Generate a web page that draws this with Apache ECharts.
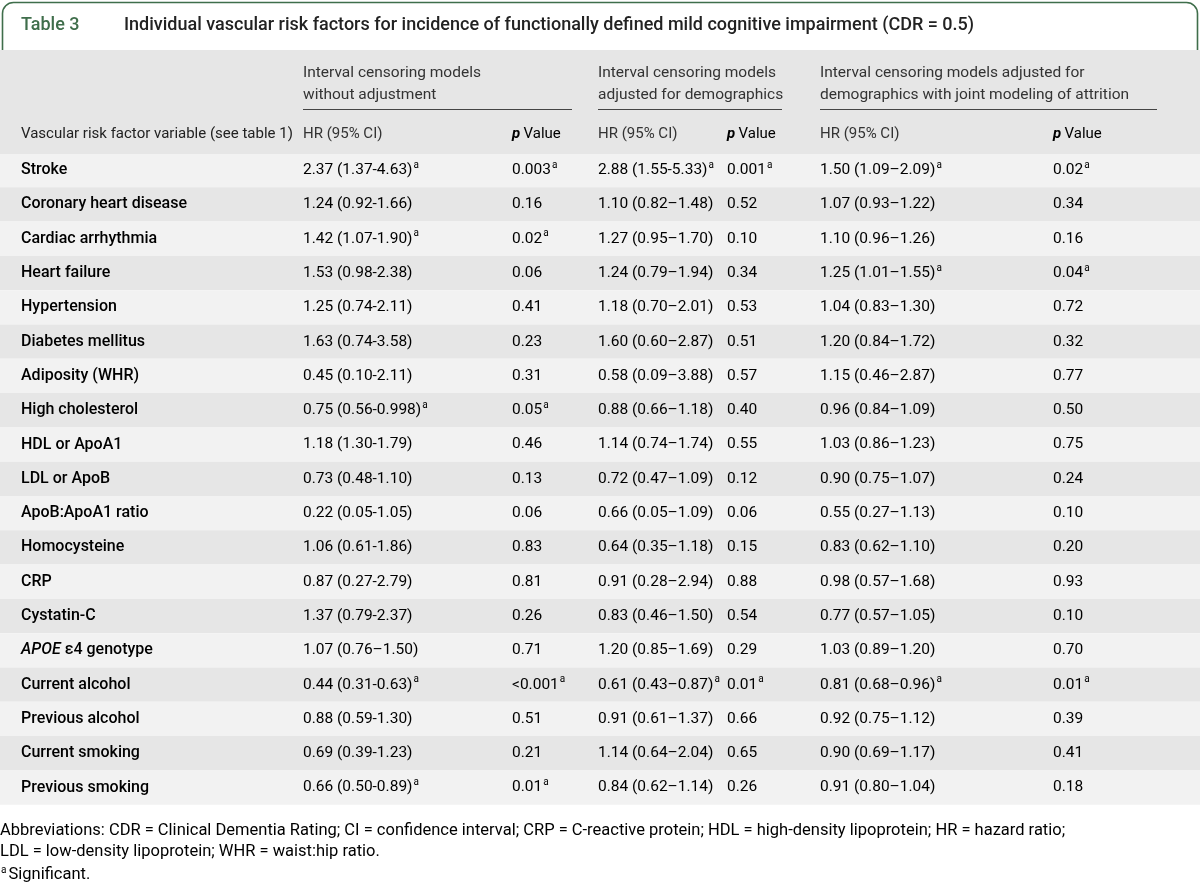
<!DOCTYPE html>
<html><head><meta charset="utf-8">
<script src="https://cdn.jsdelivr.net/npm/echarts@6/dist/echarts.min.js"></script>
<style>html,body{margin:0;padding:0;background:#fff}#c{width:1200px;height:885px}</style>
</head><body><div id="c"></div>
<script>
// ---------- data ----------
const tableNo = 'Table 3';
const caption = 'Individual vascular risk factors for incidence of functionally defined mild cognitive impairment (CDR = 0.5)';
const groupHeaders = [
  ['Interval censoring models', 'without adjustment'],
  ['Interval censoring models', 'adjusted for demographics'],
  ['Interval censoring models adjusted for', 'demographics with joint modeling of attrition']
];
const stubHeader = 'Vascular risk factor variable (see table 1)';
const colHeaders = ['HR (95% CI)', 'p Value'];
// "*" marks a significant result (superscript a); _x_ marks italic text
const factors = ['Stroke','Coronary heart disease','Cardiac arrhythmia','Heart failure','Hypertension','Diabetes mellitus','Adiposity (WHR)','High cholesterol','HDL or ApoA1','LDL or ApoB','ApoB:ApoA1 ratio','Homocysteine','CRP','Cystatin-C','_APOE_ ε4 genotype','Current alcohol','Previous alcohol','Current smoking','Previous smoking'];
const hr1 = ['2.37 (1.37-4.63)*','1.24 (0.92-1.66)','1.42 (1.07-1.90)*','1.53 (0.98-2.38)','1.25 (0.74-2.11)','1.63 (0.74-3.58)','0.45 (0.10-2.11)','0.75 (0.56-0.998)*','1.18 (1.30-1.79)','0.73 (0.48-1.10)','0.22 (0.05-1.05)','1.06 (0.61-1.86)','0.87 (0.27-2.79)','1.37 (0.79-2.37)','1.07 (0.76–1.50)','0.44 (0.31-0.63)*','0.88 (0.59-1.30)','0.69 (0.39-1.23)','0.66 (0.50-0.89)*'];
const p1 = ['0.003*','0.16','0.02*','0.06','0.41','0.23','0.31','0.05*','0.46','0.13','0.06','0.83','0.81','0.26','0.71','<0.001*','0.51','0.21','0.01*'];
const hr2 = ['2.88 (1.55-5.33)*','1.10 (0.82–1.48)','1.27 (0.95–1.70)','1.24 (0.79–1.94)','1.18 (0.70–2.01)','1.60 (0.60–2.87)','0.58 (0.09–3.88)','0.88 (0.66–1.18)','1.14 (0.74–1.74)','0.72 (0.47–1.09)','0.66 (0.05–1.09)','0.64 (0.35–1.18)','0.91 (0.28–2.94)','0.83 (0.46–1.50)','1.20 (0.85–1.69)','0.61 (0.43–0.87)*','0.91 (0.61–1.37)','1.14 (0.64–2.04)','0.84 (0.62–1.14)'];
const p2 = ['0.001*','0.52','0.10','0.34','0.53','0.51','0.57','0.40','0.55','0.12','0.06','0.15','0.88','0.54','0.29','0.01*','0.66','0.65','0.26'];
const hr3 = ['1.50 (1.09–2.09)*','1.07 (0.93–1.22)','1.10 (0.96–1.26)','1.25 (1.01–1.55)*','1.04 (0.83–1.30)','1.20 (0.84–1.72)','1.15 (0.46–2.87)','0.96 (0.84–1.09)','1.03 (0.86–1.23)','0.90 (0.75–1.07)','0.55 (0.27–1.13)','0.83 (0.62–1.10)','0.98 (0.57–1.68)','0.77 (0.57–1.05)','1.03 (0.89–1.20)','0.81 (0.68–0.96)*','0.92 (0.75–1.12)','0.90 (0.69–1.17)','0.91 (0.80–1.04)'];
const p3 = ['0.02*','0.34','0.16','0.04*','0.72','0.32','0.77','0.50','0.75','0.24','0.10','0.20','0.93','0.10','0.70','0.01*','0.39','0.41','0.18'];
const footnotes = [
  'Abbreviations: CDR = Clinical Dementia Rating; CI = confidence interval; CRP = C-reactive protein; HDL = high-density lipoprotein; HR = hazard ratio;',
  'LDL = low-density lipoprotein; WHR = waist:hip ratio.',
  '*Significant.'
];

// ---------- layout / style ----------
const FONT = 'Roboto, "Liberation Sans", sans-serif';
const FS = 15.5;
const colX = [21, 303, 512, 598, 727, 820, 1053];     // x-axis positions of columns
const columns = [factors, hr1, p1, hr2, p2, hr3, p3];
const groupX = [[303, 572], [598, 782], [820, 1157]];
const green = '#3f6e4b';

function esc(s){ return s.replace(/[{}|]/g, ''); }
function toRich(s, base){
  let out = '';
  const parts = s.split('_');
  parts.forEach((p, k) => {
    if (!p) return;
    const style = (k % 2 === 1) ? 'it' : base;
    const m = p.match(/^(.*?)(\*?)$/);
    if (m[1]) out += '{' + style + '|' + esc(m[1]) + '}';
    if (m[2]) out += '{sup|a}';
  });
  return out;
}
const rich = {
  d: {fontFamily: FONT, fontSize: FS, color: '#333', lineHeight: 20},
  lab: {fontFamily: FONT, fontSize: 16, fontWeight: 500, color: '#222', lineHeight: 20},
  it: {fontFamily: FONT, fontSize: 16, fontWeight: 500, fontStyle: 'italic', color: '#222', lineHeight: 20},
  sup: {fontFamily: FONT, fontSize: 10, color: '#333', verticalAlign: 'top', lineHeight: 20, padding: [0, 0, 0, 1]}
};

const bandData = factors.map((f, i) => [0, i]);
const cellData = [];
columns.forEach((col, c) => col.forEach((v, i) => cellData.push([colX[c], i, c])));

const chart = echarts.init(document.getElementById('c'), null, {renderer: 'canvas'});

const graphics = [
  {type: 'rect', shape: {x: 2.5, y: 2.5, width: 1195, height: 70, r: [11, 11, 0, 0]}, style: {fill: '#fff', stroke: green, lineWidth: 1.6}, z: 1},
  {type: 'rect', shape: {x: 0, y: 50, width: 1200, height: 104}, style: {fill: '#e6e6e6'}, z: 2},
  {type: 'text', x: 21, y: 25, style: {text: tableNo, font: '500 18px ' + FONT, fill: green, verticalAlign: 'middle'}, z: 3},
  {type: 'text', x: 124, y: 25, style: {text: caption, font: '500 18px ' + FONT, fill: '#222', verticalAlign: 'middle'}, z: 3},
  {type: 'text', x: colX[0], y: 134, style: {text: stubHeader, font: '15px ' + FONT, fill: '#222', verticalAlign: 'middle'}, z: 3}
];
groupHeaders.forEach((g, k) => {
  graphics.push({type: 'text', x: groupX[k][0], y: 73, style: {text: g[0], font: FS + 'px ' + FONT, fill: '#333', verticalAlign: 'middle'}, z: 3});
  graphics.push({type: 'text', x: groupX[k][0], y: 95, style: {text: g[1], font: FS + 'px ' + FONT, fill: '#333', verticalAlign: 'middle'}, z: 3});
  graphics.push({type: 'line', shape: {x1: groupX[k][0], y1: 109.5, x2: groupX[k][1], y2: 109.5}, style: {stroke: '#444', lineWidth: 1}, z: 3});
  graphics.push({type: 'text', x: colX[1 + 2 * k], y: 134, style: {text: colHeaders[0], font: '15px ' + FONT, fill: '#333', verticalAlign: 'middle'}, z: 3});
  graphics.push({type: 'text', x: colX[2 + 2 * k], y: 134, style: {text: '{pi|p} {pv|Value}', rich: {pi: {fontFamily: FONT, fontSize: 15, fontStyle: 'italic', fontWeight: 'bold', color: '#333'}, pv: {fontFamily: FONT, fontSize: 15, color: '#333'}}, verticalAlign: 'middle'}, z: 3});
});
[831, 852, 875].forEach((y, k) => {
  const t = footnotes[k];
  const txt = t.startsWith('*') ? '{sup|a}{f|' + t.slice(1) + '}' : '{f|' + t + '}';
  graphics.push({type: 'text', x: 0, y: y, style: {text: txt, rich: {f: {fontFamily: FONT, fontSize: 16.5, color: '#333', lineHeight: 20}, sup: {fontFamily: FONT, fontSize: 10, color: '#333', verticalAlign: 'top', lineHeight: 20, padding: [0, 2, 0, 1]}}, verticalAlign: 'middle'}, z: 3});
});

chart.setOption({
  animation: false,
  backgroundColor: '#fff',
  grid: {left: 0, right: 0, top: 153, height: 19 * 34.3},
  xAxis: {type: 'value', min: 0, max: 1200, show: false},
  yAxis: {type: 'category', data: factors, inverse: true, show: false},
  graphic: graphics,
  series: [
    {
      type: 'custom', silent: true, data: bandData, encode: {x: 0, y: 1}, z: 1,
      renderItem(params, api) {
        const i = api.value(1);
        const p = api.coord([0, i]);
        const h = api.size([0, 1])[1];
        return {type: 'rect', shape: {x: 0, y: p[1] - h / 2, width: api.getWidth(), height: h},
          style: {fill: i % 2 === 0 ? '#f2f2f2' : '#e6e6e6'}};
      }
    },
    {
      type: 'custom', silent: true, data: cellData, encode: {x: 0, y: 1}, z: 2,
      renderItem(params, api) {
        const d = cellData[params.dataIndex];
        const p = api.coord([d[0], d[1]]);
        const c = d[2];
        const s = columns[c][d[1]];
        return {type: 'text', x: p[0], y: p[1],
          style: {text: toRich(s, c === 0 ? 'lab' : 'd'), rich: rich, verticalAlign: 'middle', align: 'left'}};
      }
    }
  ]
});
</script>
</body></html>
